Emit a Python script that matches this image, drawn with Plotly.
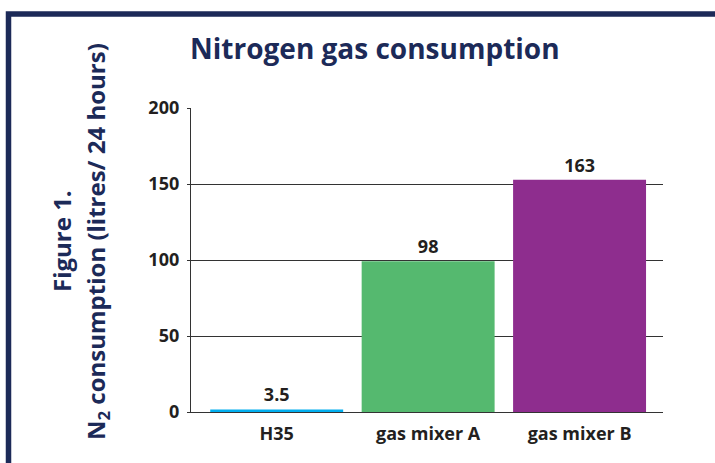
import plotly.graph_objects as go

categories = ["H35", "gas mixer A", "gas mixer B"]
bar_heights = [1.7, 99.2, 152.8]          # heights of the drawn bars
bar_labels = ["3.5", "98", "163"]          # value labels printed above the bars
bar_colors = ["#00aeef", "#55b96f", "#8e2d8e"]
y_ticks = [0, 50, 100, 150, 200]

NAVY = "#1c2a58"
INK = "#231f20"
FONT = "Open Sans"

W, H = 715, 463
L, R, T, B = 191, 663, 108, 412

fig = go.Figure(
    go.Bar(
        x=categories,
        y=bar_heights,
        marker=dict(color=bar_colors, line=dict(width=0)),
        text=bar_labels,
        textposition="outside",
        textfont=dict(family=FONT, size=18, color=INK, weight="bold"),
        cliponaxis=False,
        width=0.878,
        hoverinfo="skip",
    )
)

fig.update_layout(
    width=W,
    height=H,
    margin=dict(l=L, r=W - R, t=T, b=H - B, pad=0),
    paper_bgcolor="white",
    plot_bgcolor="white",
    showlegend=False,
    font=dict(family=FONT, color=INK),
)

fig.update_xaxes(
    type="category",
    range=[-0.566, 2.551],
    showline=True,
    linecolor="#333333",
    linewidth=1.3,
    showgrid=False,
    ticks="",
    tickfont=dict(family=FONT, size=18, color=INK, weight="bold"),
    ticklabelstandoff=5,
)
fig.update_yaxes(
    range=[0, 200],
    tickvals=y_ticks,
    showline=True,
    linecolor="#333333",
    linewidth=1.3,
    showgrid=True,
    gridcolor="#333333",
    gridwidth=1.3,
    ticks="outside",
    ticklen=3,
    tickcolor="#333333",
    tickwidth=1.3,
    tickfont=dict(family=FONT, size=18, color=INK, weight="bold"),
    ticklabelstandoff=4,
    zeroline=False,
)

def px_x(px):
    return (px - L) / (R - L)

def px_y(py):
    return (B - py) / (B - T)

annotations = [
    dict(
        text="Nitrogen gas consumption",
        x=px_x(375), y=px_y(48), xref="paper", yref="paper",
        xanchor="center", yanchor="middle", showarrow=False,
        font=dict(family=FONT, size=28, color=NAVY, weight="bold"),
    ),
    dict(
        text="Figure 1.",
        x=px_x(61), y=px_y(241), xref="paper", yref="paper",
        xanchor="center", yanchor="middle", showarrow=False, textangle=-90,
        font=dict(family=FONT, size=24, color=NAVY, weight="bold"),
    ),
    dict(
        text="N<sub>2</sub> consumption (litres/ 24 hours)",
        x=px_x(97), y=px_y(242), xref="paper", yref="paper",
        xanchor="center", yanchor="middle", showarrow=False, textangle=-90,
        font=dict(family=FONT, size=24, color=NAVY, weight="bold"),
    ),
]
fig.update_layout(annotations=annotations)

fig.add_shape(
    type="rect", xref="paper", yref="paper",
    x0=px_x(8.5), x1=px_x(760), y0=px_y(14), y1=px_y(520),
    line=dict(color=NAVY, width=5.5), fillcolor="rgba(0,0,0,0)", layer="above",
)

fig.write_html(
    "out.html",
    config={"displayModeBar": False},
    post_script="document.body.style.margin='0';",
)
